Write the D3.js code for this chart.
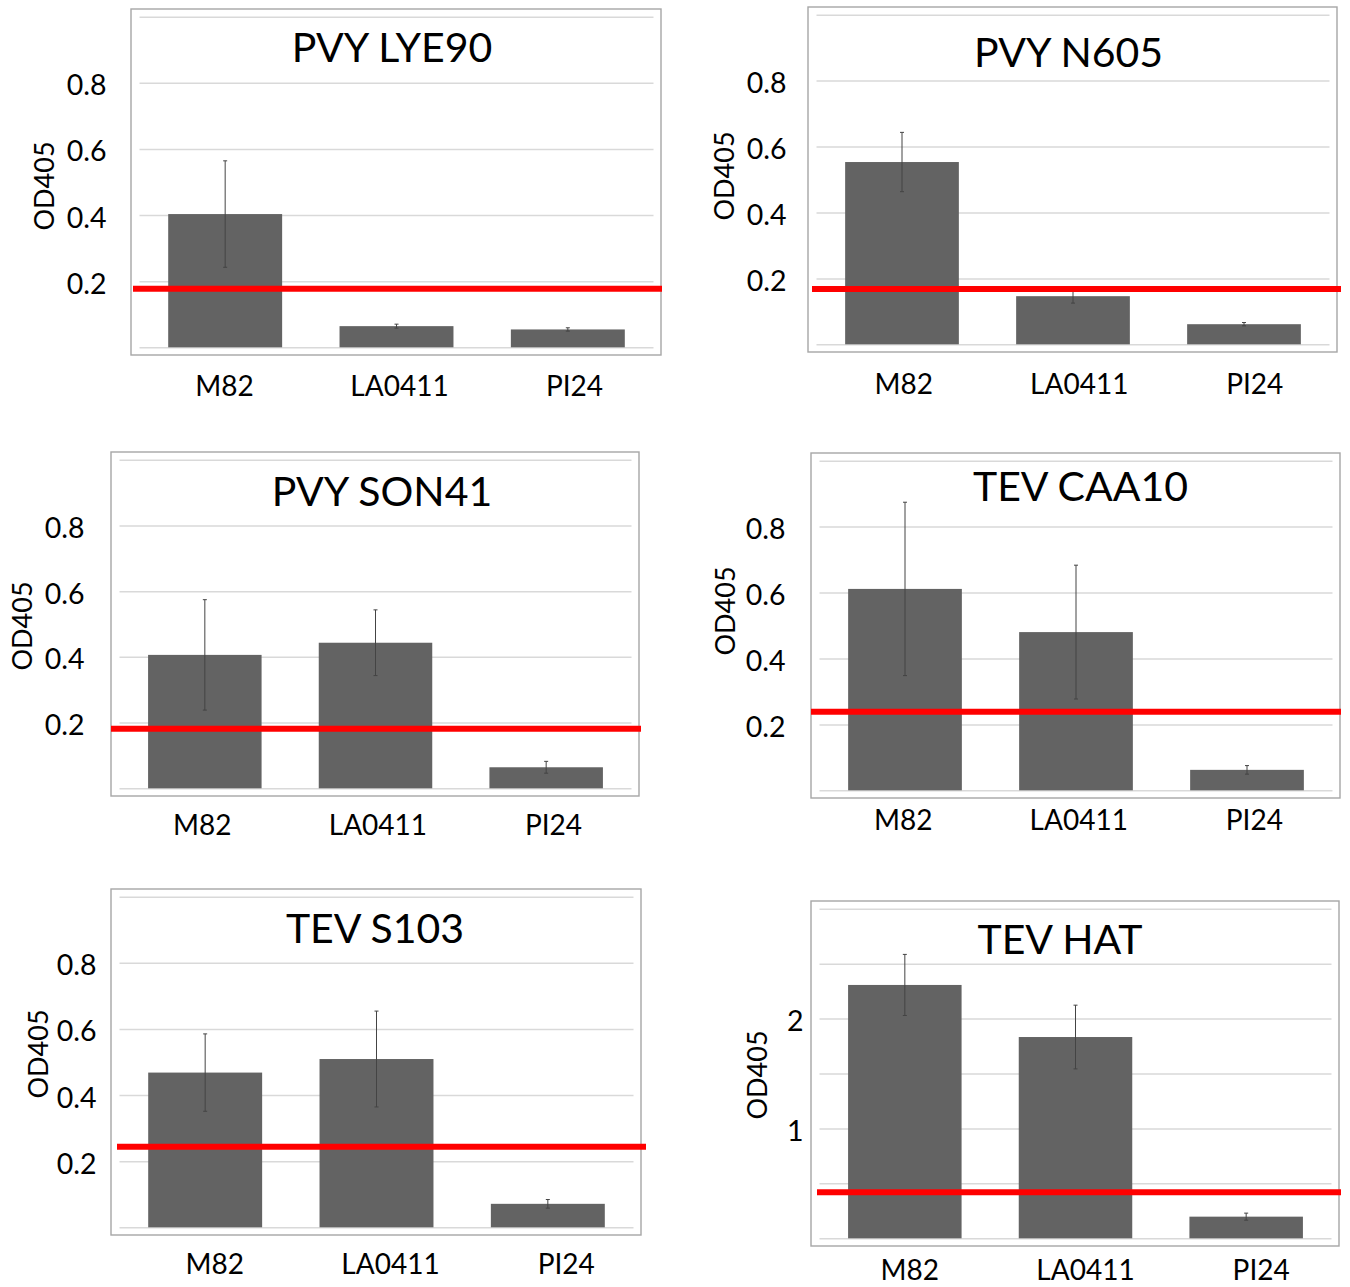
<!DOCTYPE html>
<html lang="en">
<head>
    <meta charset="UTF-8">
    <title>OD405 panels</title>
    <script src="https://cdn.jsdelivr.net/npm/d3@7/dist/d3.min.js"></script>
    <style>
        body {
            margin: 0;
            background-color: white;
        }
        text {
            font-family: Lato, "Open Sans", sans-serif;
            fill: black;
        }
        .grid line {
            stroke: #d9d9d9;
            stroke-width: 1.5;
        }
        .grid .domain {
            display: none;
        }
        .frame {
            fill: none;
            stroke: #a6a6a6;
            stroke-width: 1.4;
        }
        rect.bar {
            fill: #636363;
        }
        .err line {
            stroke: #444;
            stroke-width: 1;
        }
        .cutoff {
            stroke: #ff0000;
            stroke-width: 6;
        }
    </style>
</head>
<body>

<svg id="svg" width="1350" height="1287"></svg>

<script>
    // data
    var categories = ["M82", "LA0411", "PI24"];
    var titles = ["PVY LYE90", "PVY N605", "PVY SON41", "TEV CAA10", "TEV S103", "TEV HAT"];

    var means = [
        [0.403, 0.064, 0.054],
        [0.553, 0.146, 0.061],
        [0.406, 0.443, 0.064],
        [0.611, 0.480, 0.062],
        [0.468, 0.509, 0.071],
        [2.306, 1.832, 0.197]
    ];
    var errors = [
        [0.161, 0.006, 0.005],
        [0.090, 0.021, 0.005],
        [0.168, 0.100, 0.018],
        [0.263, 0.203, 0.013],
        [0.117, 0.145, 0.013],
        [0.278, 0.290, 0.032]
    ];
    var cutoffs = [0.177, 0.168, 0.181, 0.238, 0.244, 0.419];

    var yMax = [1, 1, 1, 1, 1, 3];
    var gridValues = [
        [0, 0.2, 0.4, 0.6, 0.8, 1],
        [0, 0.2, 0.4, 0.6, 0.8, 1],
        [0, 0.2, 0.4, 0.6, 0.8, 1],
        [0, 0.2, 0.4, 0.6, 0.8, 1],
        [0, 0.2, 0.4, 0.6, 0.8, 1],
        [0, 0.5, 1, 1.5, 2, 2.5, 3]
    ];
    var tickLabels = [
        [0.2, 0.4, 0.6, 0.8],
        [0.2, 0.4, 0.6, 0.8],
        [0.2, 0.4, 0.6, 0.8],
        [0.2, 0.4, 0.6, 0.8],
        [0.2, 0.4, 0.6, 0.8],
        [1, 2]
    ];

    // layout of each panel (frame box, label nudges)
    var panels = [
        {x: 131, y: 9,   w: 530, h: 346, tickPad: 33, titleDx: -4,  titleDy: 53, catDy: 41, catRange: [6, 1],     labX: 44,  labY: 186,  lineDx: [2, 1]},
        {x: 808, y: 7,   w: 529, h: 345, tickPad: 30, titleDx: -4,  titleDy: 60, catDy: 42, catRange: [8, 5.5],   labX: 724, labY: 176,  lineDx: [4, 4]},
        {x: 111, y: 452, w: 528, h: 344, tickPad: 35, titleDx: 7,   titleDy: 54, catDy: 39, catRange: [3.5, 2.3], labX: 22,  labY: 626,  lineDx: [0, 2]},
        {x: 811, y: 453, w: 529, h: 345, tickPad: 34, titleDx: 5,   titleDy: 48, catDy: 32, catRange: [4.4, 2.1], labX: 725, labY: 611,  lineDx: [0, 1]},
        {x: 111, y: 889, w: 530, h: 346, tickPad: 23, titleDx: -1,  titleDy: 54, catDy: 39, catRange: [15.8, 13.2], labX: 38, labY: 1054, lineDx: [6, 5]},
        {x: 811, y: 901, w: 528, h: 345, tickPad: 16, titleDx: -15, titleDy: 53, catDy: 34, catRange: [11, 10],   labX: 757, labY: 1075, lineDx: [6, 2]}
    ];

    var inset = {left: 8.5, right: 7.5, top: 7.7, bottom: 7.7};

    var svg = d3.select("#svg");

    panels.forEach(function(p, i) {
        var g = svg.append("g").attr("class", "panel");

        var x0 = p.x + inset.left,
            x1 = p.x + p.w - inset.right,
            yTop = p.y + inset.top,
            yBot = p.y + p.h - inset.bottom;

        var x = d3.scaleBand()
            .domain(categories)
            .range([x0, x1])
            .paddingInner(0.335)
            .paddingOuter(0.1675);

        // category labels sit on their own slightly wider band
        var xLab = d3.scaleBand()
            .domain(categories)
            .range([p.x + p.catRange[0], p.x + p.w + p.catRange[1]]);

        var y = d3.scaleLinear()
            .domain([0, yMax[i]])
            .range([yBot, yTop]);

        // frame
        g.append("rect")
            .attr("class", "frame")
            .attr("x", p.x)
            .attr("y", p.y)
            .attr("width", p.w)
            .attr("height", p.h);

        // gridlines
        g.append("g")
            .attr("class", "grid")
            .attr("transform", "translate(" + x0 + ",0)")
            .call(d3.axisLeft(y)
                .tickValues(gridValues[i])
                .tickSize(-(x1 - x0))
                .tickFormat(""));

        // tick labels
        var yAxis = g.append("g")
            .attr("transform", "translate(" + x0 + ",0)")
            .call(d3.axisLeft(y)
                .tickValues(tickLabels[i])
                .tickSize(0)
                .tickPadding(p.tickPad)
                .tickFormat(function(d) { return yMax[i] > 1 ? d3.format("d")(d) : d3.format(".1f")(d); }));
        yAxis.select(".domain").remove();
        yAxis.selectAll("text")
            .attr("dy", "0.42em")
            .style("font-size", "28.5px")
            .style("font-family", "Lato, sans-serif")
            .attr("fill", "black");

        var rows = categories.map(function(c, k) {
            return {cat: c, value: means[i][k], err: errors[i][k]};
        });

        // bars
        g.selectAll("rect.bar")
            .data(rows)
            .enter()
            .append("rect")
            .attr("class", "bar")
            .attr("x", function(d) { return x(d.cat); })
            .attr("y", function(d) { return y(d.value); })
            .attr("width", x.bandwidth())
            .attr("height", function(d) { return y(0) - y(d.value); });

        // error bars
        var err = g.selectAll("g.err")
            .data(rows)
            .enter()
            .append("g")
            .attr("class", "err")
            .attr("transform", function(d) { return "translate(" + (x(d.cat) + x.bandwidth() / 2) + ",0)"; });
        err.append("line")
            .attr("y1", function(d) { return y(d.value + d.err); })
            .attr("y2", function(d) { return y(d.value - d.err); });
        err.append("line")
            .attr("x1", -2).attr("x2", 2)
            .attr("y1", function(d) { return y(d.value + d.err); })
            .attr("y2", function(d) { return y(d.value + d.err); });
        err.append("line")
            .attr("x1", -2).attr("x2", 2)
            .attr("y1", function(d) { return y(d.value - d.err); })
            .attr("y2", function(d) { return y(d.value - d.err); });

        // cutoff line
        g.append("line")
            .attr("class", "cutoff")
            .attr("x1", p.x + p.lineDx[0])
            .attr("x2", p.x + p.w + p.lineDx[1])
            .attr("y1", y(cutoffs[i]))
            .attr("y2", y(cutoffs[i]));

        // title
        g.append("text")
            .attr("x", p.x + p.w / 2 + p.titleDx)
            .attr("y", p.y + p.titleDy)
            .attr("text-anchor", "middle")
            .style("font-size", "41px")
            .text(titles[i]);

        // category labels
        g.selectAll("text.cat")
            .data(categories)
            .enter()
            .append("text")
            .attr("class", "cat")
            .attr("x", function(d) { return xLab(d) + xLab.bandwidth() / 2; })
            .attr("y", p.y + p.h + p.catDy)
            .attr("text-anchor", "middle")
            .style("font-size", "28px")
            .text(function(d) { return d; });

        // y label
        g.append("text")
            .attr("transform", "translate(" + p.labX + "," + p.labY + ") rotate(-90)")
            .attr("text-anchor", "middle")
            .attr("dy", "0.36em")
            .style("font-size", "27px")
            .text("OD405");
    });
</script>
</body>
</html>
